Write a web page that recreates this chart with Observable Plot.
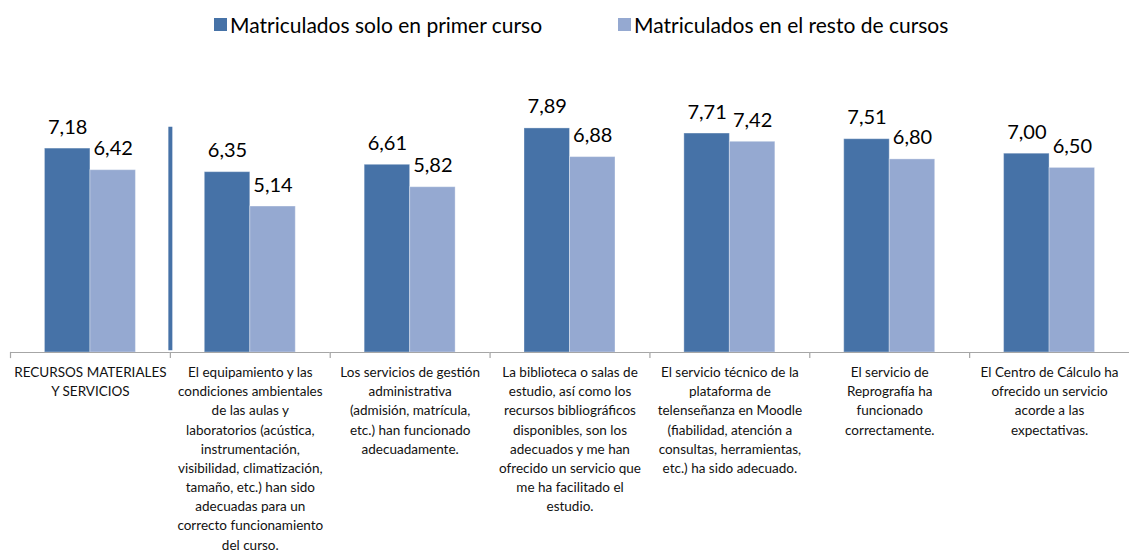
<!DOCTYPE html>
<html>
<head>
<meta charset="utf-8">
<script src="https://cdn.jsdelivr.net/npm/d3@7"></script>
<script src="https://cdn.jsdelivr.net/npm/@observablehq/plot@0.6"></script>
<style>
  html, body { margin: 0; padding: 0; background: #fff; }
  body { width: 1129px; height: 554px; overflow: hidden; font-family: Lato, "Noto Sans", sans-serif; }
  #legend { position: relative; height: 48px; }
  .item { position: absolute; top: 14px; display: flex; align-items: center; font-size: 21px; color: #000; line-height: 1; }
  .sw { width: 13px; height: 13px; margin-right: 3px; }
  svg { display: block; }
</style>
</head>
<body>
<div id="legend"></div>
<div id="chart"></div>
<script>
const categories = [
  "RECURSOS MATERIALES\nY SERVICIOS",
  "El equipamiento y las\ncondiciones ambientales\nde las aulas y\nlaboratorios (acústica,\ninstrumentación,\nvisibilidad, climatización,\ntamaño, etc.) han sido\nadecuadas para un\ncorrecto funcionamiento\ndel curso.",
  "Los servicios de gestión\nadministrativa\n(admisión, matrícula,\netc.) han funcionado\nadecuadamente.",
  "La biblioteca o salas de\nestudio, así como los\nrecursos bibliográficos\ndisponibles, son los\nadecuados y me han\nofrecido un servicio que\nme ha facilitado el\nestudio.",
  "El servicio técnico de la\nplataforma de\ntelenseñanza en Moodle\n(fiabilidad, atención a\nconsultas, herramientas,\netc.) ha sido adecuado.",
  "El servicio de\nReprografía ha\nfuncionado\ncorrectamente.",
  "El Centro de Cálculo ha\nofrecido un servicio\nacorde a las\nexpectativas."
];
const series = ["Matriculados solo en primer curso", "Matriculados en el resto de cursos"];
const primerCurso = [7.18, 6.35, 6.61, 7.89, 7.71, 7.51, 7.00];
const restoCursos = [6.42, 5.14, 5.82, 6.88, 7.42, 6.80, 6.50];
const separatorCategory = categories[1];
const separatorValue = 7.93;
const colors = ["#4672a7", "#95a9d1"];

const rows = [];
categories.forEach((c, i) => {
  rows.push({cat: c, series: series[0], value: primerCurso[i]});
  rows.push({cat: c, series: series[1], value: restoCursos[i]});
});

// legend
const legend = document.getElementById("legend");
const legendX = [214, 618];
series.forEach((s, i) => {
  const it = document.createElement("div");
  it.className = "item";
  it.style.left = legendX[i] + "px";
  it.innerHTML = `<div class="sw" style="background:${colors[i]}"></div><span>${s}</span>`;
  legend.appendChild(it);
});

const width = 1129, marginLeft = 10, marginRight = 0;
const paddingOuter = 0.757;
const facetW = (width - marginLeft - marginRight) / categories.length;
const bw = facetW / (2 + 2 * paddingOuter);
const sepDx = -(paddingOuter * bw + bw / 2);

const chart = Plot.plot({
  width,
  height: 506,
  marginTop: 20,
  marginBottom: 202,
  marginLeft,
  marginRight,
  style: {fontFamily: "Lato, 'Noto Sans', sans-serif", background: "#fff", overflow: "visible"},
  fx: {domain: categories, padding: 0, round: false, axis: null},
  x: {domain: series, paddingInner: 0, paddingOuter, round: false, axis: null},
  y: {domain: [0, 10], axis: null},
  color: {domain: series, range: colors},
  marks: [
    Plot.barY(rows, {fx: "cat", x: "series", y: "value", fill: "series", stroke: "#ffffff", strokeOpacity: 0.35, strokeWidth: 1}),
    Plot.ruleX([{cat: separatorCategory, v: separatorValue}], {fx: "cat", x: () => series[0], y1: 0.06, y2: "v", dx: sepDx, stroke: colors[0], strokeWidth: 4}),
    Plot.ruleY([0], {stroke: "#a6a6a6", strokeWidth: 1.2}),
    Plot.frame({anchor: "left", stroke: "#a6a6a6", strokeWidth: 1.2, insetTop: 284, insetBottom: -5}),
    Plot.text(rows, {fx: "cat", x: "series", y: "value", text: d => d.value.toFixed(2).replace(".", ","), lineAnchor: "bottom", dy: -15, fontSize: 20, fill: "#000"}),
    Plot.text(categories, {fx: d => d, text: d => d, frameAnchor: "bottom", lineAnchor: "top", dy: 11, fontSize: 13.5, lineHeight: 1.42, fill: "#111"})
  ]
});
document.getElementById("chart").appendChild(chart);
</script>
</body>
</html>
